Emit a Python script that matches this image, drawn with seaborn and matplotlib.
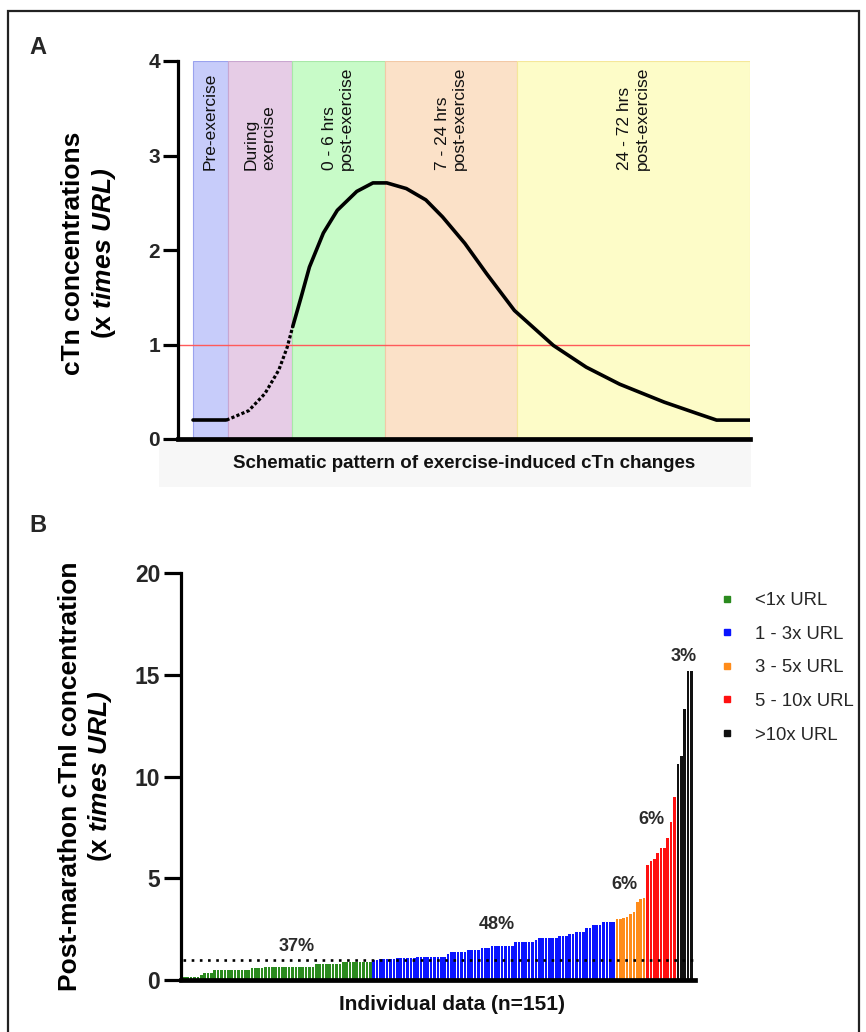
import matplotlib
matplotlib.use("Agg")
import matplotlib.pyplot as plt
import matplotlib.patches as mpatches
from matplotlib.lines import Line2D
import seaborn as sns
import pandas as pd

# ---------------- panel A data (schematic) ----------------
region_edges = [0, 6.3, 17.7, 34.4, 58.2, 100]
region_colors = ["#c7ccfa", "#e6cce6", "#c8fbc8", "#fbe1c8", "#fdfcc8"]
region_edgecolors = ["#9aa2ee", "#c9a6d0", "#a8e8a8", "#f2c9a6", "#f5e79a"]
region_labels = ["Pre-exercise", "During\nexercise", "0 - 6 hrs\npost-exercise",
                 "7 - 24 hrs\npost-exercise", "24 - 72 hrs\npost-exercise"]

baseline_x = [0, 6.0]
baseline_y = [0.2, 0.2]
rise_x = [6.0, 10.0, 12.9, 15.4, 16.9, 17.9]
rise_y = [0.2, 0.30, 0.48, 0.73, 0.97, 1.19]
curve_x = [17.9, 19.4, 20.9, 23.4, 25.9, 29.4, 32.3, 34.8, 38.3, 41.8, 44.8, 48.8,
           52.7, 57.7, 64.7, 70.6, 76.6, 84.6, 90.5, 94.0, 100]
curve_y = [1.19, 1.50, 1.82, 2.18, 2.42, 2.62, 2.71, 2.71, 2.65, 2.53, 2.35, 2.07,
           1.75, 1.36, 0.99, 0.76, 0.58, 0.39, 0.27, 0.2, 0.2]
url_line = 1.0

# ---------------- panel B data (individual cTnI, x URL) ----------------
green_vals = [0.15, 0.15, 0.16, 0.16, 0.16, 0.25, 0.36, 0.36, 0.36,
              0.49, 0.49, 0.49, 0.49, 0.49, 0.49, 0.49, 0.49, 0.49, 0.49, 0.49,
              0.58, 0.58, 0.58, 0.58,
              0.65, 0.65, 0.65, 0.65, 0.65, 0.65, 0.65, 0.65, 0.65, 0.65, 0.65, 0.65, 0.65, 0.65, 0.65,
              0.77, 0.77, 0.77, 0.77, 0.77, 0.77, 0.77, 0.77,
              0.87, 0.87, 0.87, 0.87, 0.87, 0.87, 0.87, 0.87, 0.87]
blue_vals = [1.00, 1.00, 1.03, 1.03, 1.03, 1.03, 1.03,
             1.08, 1.08, 1.08, 1.08, 1.08, 1.08,
             1.15, 1.15, 1.15, 1.15, 1.15, 1.15, 1.15, 1.15, 1.15,
             1.28, 1.38, 1.38, 1.38, 1.38, 1.38, 1.48, 1.48, 1.48, 1.48,
             1.56, 1.56, 1.56, 1.67, 1.67, 1.67, 1.67, 1.67, 1.67, 1.67,
             1.87, 1.87, 1.87, 1.87, 1.87, 1.87, 1.97,
             2.08, 2.08, 2.08, 2.08, 2.08, 2.08, 2.18, 2.18, 2.18, 2.28, 2.28,
             2.38, 2.38, 2.38, 2.54, 2.54, 2.69, 2.69, 2.69, 2.87, 2.87, 2.87, 2.87]
orange_vals = [3.0, 3.0, 3.05, 3.1, 3.25, 3.35, 3.85, 4.0, 4.05]
red_vals = [5.67, 5.87, 5.97, 6.25, 6.49, 6.49, 6.98, 7.77, 8.98]
black_vals = [10.6, 11.0, 13.3, 15.2, 15.2]

group_names = ["<1x URL", "1 - 3x URL", "3 - 5x URL", "5 - 10x URL", ">10x URL"]
group_colors = ["#2a8a1e", "#0a14ff", "#ff8c1a", "#ff1010", "#111111"]
pct_labels = ["37%", "48%", "6%", "6%", "3%"]
pct_x = [33.2, 92.4, 130.1, 138.3, 147.8]
pct_y = [1.64, 2.71, 4.68, 7.9, 15.9]

# ---------------- style ----------------
sns.set_theme(style="white")
plt.rcParams["font.family"] = ["Liberation Sans", "DejaVu Sans"]
plt.rcParams["mathtext.fontset"] = "custom"
plt.rcParams["mathtext.rm"] = "Liberation Sans"
plt.rcParams["mathtext.bf"] = "Liberation Sans:bold"
plt.rcParams["mathtext.it"] = "Liberation Sans:italic"
plt.rcParams["mathtext.bfit"] = "Liberation Sans:bold:italic"

fig = plt.figure(figsize=(8.66, 10.32), dpi=100)
W, H = 866, 1032


def fbox(x0, y0, x1, y1):
    # pixel box (top-left origin) -> figure fraction [l, b, w, h]
    return [x0 / W, 1 - y1 / H, (x1 - x0) / W, (y1 - y0) / H]


# outer frame and faint label box
fig.patches.append(mpatches.Rectangle((8 / W, -0.01), (859 - 8) / W, 1 - 11 / H + 0.01,
                                      transform=fig.transFigure, fill=False,
                                      edgecolor="#222222", lw=1.6, zorder=-2))
fig.patches.append(mpatches.Rectangle((159 / W, 1 - 487 / H), (751 - 159) / W, 45 / H,
                                      transform=fig.transFigure, facecolor="#f7f7f7",
                                      edgecolor="none", zorder=-2))

# ---------------- panel A ----------------
axA = fig.add_axes(fbox(178, 61, 750, 439))
axA.patch.set_alpha(0)
for i in range(len(region_labels)):
    axA.axvspan(region_edges[i], region_edges[i + 1], ymin=0, ymax=1,
                facecolor=region_colors[i], edgecolor=region_edgecolors[i], lw=0.8, zorder=0)
    axA.text((region_edges[i] + region_edges[i + 1]) / 2, 2.85, region_labels[i],
             rotation=90, ha="center", va="bottom", multialignment="left",
             fontsize=12.5, color="#111111")

axA.axhline(url_line, color="#ff5a5a", lw=1.0, zorder=1)
sns.lineplot(x=baseline_x, y=baseline_y, ax=axA, color="black", lw=2.6,
             estimator=None, sort=False, zorder=3)
sns.lineplot(x=rise_x, y=rise_y, ax=axA, color="black", lw=2.3,
             linestyle=(0, (1.0, 0.7)), estimator=None, sort=False, zorder=3)
sns.lineplot(x=curve_x, y=curve_y, ax=axA, color="black", lw=2.6,
             estimator=None, sort=False, zorder=3)

axA.set_xlim(-2.7, 100)
axA.set_ylim(0, 4)
axA.set_yticks([0, 1, 2, 3, 4])
axA.set_xticks([])
sns.despine(ax=axA)
axA.spines["left"].set_linewidth(2.3)
axA.spines["bottom"].set_linewidth(3.4)
axA.spines["left"].set_color("black")
axA.spines["bottom"].set_color("black")
axA.tick_params(axis="y", direction="out", length=11, width=2.3, pad=2,
                labelsize=15, color="black", left=True)
for lbl in axA.get_yticklabels():
    lbl.set_fontweight("bold")
axA.set_xlabel("Schematic pattern of exercise-induced cTn changes",
               fontsize=13.5, fontweight="bold", color="#111111")
axA.xaxis.set_label_coords(0.5, -25 / 378, transform=axA.transAxes)
axA.xaxis.label.set_va("center")
axA.set_ylabel("cTn concentrations\n(x $\\mathbfit{times\\ URL)}$", fontsize=19,
               fontweight="bold", linespacing=1.25, color="black")
axA.yaxis.set_label_coords(-0.105, 0.49)
fig.text(38 / W, 1 - 48 / H, "A", fontsize=17, fontweight="bold", ha="center", va="center")

# ---------------- panel B ----------------
axB = fig.add_axes(fbox(181, 573, 695, 980))
all_vals = green_vals + blue_vals + orange_vals + red_vals + black_vals
all_groups = ([group_names[0]] * len(green_vals) + [group_names[1]] * len(blue_vals)
              + [group_names[2]] * len(orange_vals) + [group_names[3]] * len(red_vals)
              + [group_names[4]] * len(black_vals))
df = pd.DataFrame({"idx": range(len(all_vals)), "value": all_vals, "group": all_groups})

sns.barplot(data=df, x="idx", y="value", hue="group", hue_order=group_names,
            palette=group_colors, dodge=False, width=0.78, saturation=1,
            errorbar=None, legend=False, ax=axB, zorder=2,
            linewidth=0, edgecolor="none")

axB.axhline(1.0, xmin=0.5 / 152.07, xmax=1, color="black", lw=1.9,
            linestyle=(0, (1, 2.1)), zorder=4)
for t, x, y in zip(pct_labels, pct_x, pct_y):
    axB.text(x, y, t, ha="center", va="center", fontsize=13, fontweight="bold",
             color="#2b2b2b")

axB.set_xlim(-1.0, 151.07)
axB.set_ylim(0, 20)
axB.set_yticks([0, 5, 10, 15, 20])
axB.set_xticks([])
sns.despine(ax=axB)
axB.spines["left"].set_linewidth(2.3)
axB.spines["bottom"].set_linewidth(3.4)
axB.spines["left"].set_color("black")
axB.spines["bottom"].set_color("black")
axB.tick_params(axis="y", direction="out", length=12, width=2.3, pad=3,
                labelsize=16.5, color="black", left=True)
for lbl in axB.get_yticklabels():
    lbl.set_fontweight("bold")
axB.set_xlabel("Individual data (n=151)", fontsize=15, fontweight="bold", color="#111111")
axB.xaxis.set_label_coords(0.527, -24 / 407, transform=axB.transAxes)
axB.xaxis.label.set_va("center")
axB.set_ylabel("Post-marathon cTnI concentration\n(x $\\mathbfit{times\\ URL)}$", fontsize=19,
               fontweight="bold", linespacing=1.2, color="black")
axB.yaxis.set_label_coords(-0.13, 0.5)
fig.text(38 / W, 1 - 526 / H, "B", fontsize=17, fontweight="bold", ha="center", va="center")

handles = [Line2D([0], [0], marker="s", color="none", markerfacecolor=c,
                  markeredgecolor=c, markersize=5) for c in group_colors]
axB.legend(handles, group_names, loc="upper left", bbox_to_anchor=(718 / W, 1 - 592 / H),
           bbox_transform=fig.transFigure, frameon=False, fontsize=13.3,
           handlelength=1.0, handletextpad=1.0, labelspacing=0.9,
           borderpad=0, borderaxespad=0)

fig.savefig("out.png", dpi=100)
